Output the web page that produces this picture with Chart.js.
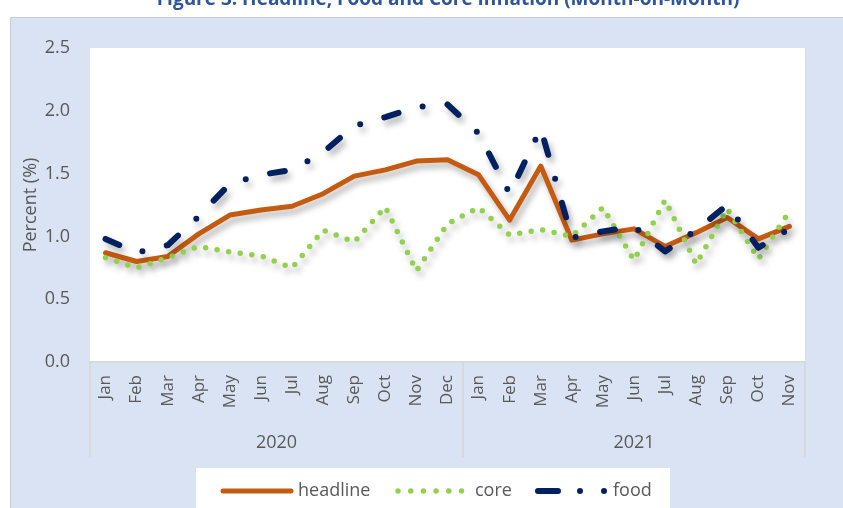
<!DOCTYPE html>
<html>
<head>
<meta charset="utf-8">
<script src="https://cdn.jsdelivr.net/npm/chart.js@4/dist/chart.umd.min.js"></script>
<style>
html,body{margin:0;padding:0;background:#fff;}
#wrap{width:843px;height:508px;}
</style>
</head>
<body>
<div id="wrap"><canvas id="c" width="843" height="508"></canvas></div>
<script>
const chartTitle = 'Figure 3: Headline, Food and Core Inflation (Month-on-Month)';
const months = ['Jan','Feb','Mar','Apr','May','Jun','Jul','Aug','Sep','Oct','Nov','Dec',
                'Jan','Feb','Mar','Apr','May','Jun','Jul','Aug','Sep','Oct','Nov'];
const years = ['2020','2021'];
const yearCounts = [12, 11];
const yTicks = [0, 0.5, 1.0, 1.5, 2.0, 2.5];
const seriesNames = ['headline','core','food'];
const headline = [0.87,0.80,0.84,1.02,1.17,1.21,1.24,1.34,1.48,1.53,1.60,1.61,
                  1.49,1.13,1.56,0.97,1.02,1.06,0.92,1.03,1.15,0.98,1.08];
const core = [0.83,0.75,0.83,0.92,0.875,0.845,0.75,1.05,0.955,1.235,0.725,1.10,
              1.23,1.01,1.055,1.00,1.23,0.81,1.29,0.78,1.22,0.82,1.20];
const food = [0.98,0.87,0.93,1.16,1.42,1.49,1.53,1.67,1.88,1.95,2.03,2.05,
              1.82,1.34,1.86,0.99,1.04,1.08,0.88,1.05,1.25,0.91,1.06];

const FONT = 'Open Sans';
const GREY = '#595959';
const COLORS = {headline:'#c55a11', core:'#92d050', food:'#002060'};

const bgPlugin = {
  id:'bg',
  beforeDraw(c){
    const ctx = c.ctx, a = c.chartArea;
    ctx.save();
    ctx.fillStyle = '#ffffff';
    ctx.fillRect(0,0,c.width,c.height);
    ctx.fillStyle = '#dae3f3';
    ctx.fillRect(10,17,c.width-10,c.height-17);
    ctx.strokeStyle = '#c8ccd4';
    ctx.lineWidth = 1;
    ctx.beginPath();
    ctx.moveTo(10.5,c.height); ctx.lineTo(10.5,17.5); ctx.lineTo(c.width,17.5);
    ctx.stroke();
    ctx.fillStyle = '#ffffff';
    ctx.fillRect(a.left,a.top,a.right-a.left,a.bottom-a.top);
    ctx.fillStyle = '#2f5597';
    ctx.font = 'bold 19px "' + FONT + '"';
    ctx.textAlign = 'center';
    ctx.textBaseline = 'alphabetic';
    ctx.fillText(chartTitle, 448, 5);
    ctx.restore();
  }
};

const shadowPlugin = {
  id:'shadow',
  beforeDatasetsDraw(c){
    const ctx = c.ctx;
    ctx.save();
    ctx.shadowColor = 'rgba(0,0,0,0.3)';
    ctx.shadowBlur = 6;
    ctx.shadowOffsetX = 3;
    ctx.shadowOffsetY = 5;
  },
  afterDatasetsDraw(c){ c.ctx.restore(); }
};

const axisPlugin = {
  id:'yearAxis',
  afterDraw(c){
    const ctx = c.ctx, xs = c.scales.x, a = c.chartArea;
    const w = xs.width / months.length;
    ctx.save();
    ctx.strokeStyle = '#d9d9d9';
    ctx.lineWidth = 2;
    ctx.fillStyle = GREY;
    ctx.font = '18px "' + FONT + '"';
    ctx.textAlign = 'center';
    ctx.textBaseline = 'middle';
    let start = 0;
    const bounds = [];
    years.forEach((y,i)=>{
      const x0 = xs.getPixelForValue(start) - w/2;
      const x1 = xs.getPixelForValue(start + yearCounts[i] - 1) + w/2;
      bounds.push(x0); if (i === years.length-1) bounds.push(x1);
      ctx.fillText(y, (x0+x1)/2, 443);
      start += yearCounts[i];
    });
    bounds.forEach(x=>{
      ctx.beginPath(); ctx.moveTo(x, a.bottom); ctx.lineTo(x, 457); ctx.stroke();
    });
    ctx.fillStyle = '#ffffff';
    ctx.fillRect(196, 468, 474, 40);
    const ly = 491;
    ctx.lineCap = 'round';
    ctx.strokeStyle = COLORS.headline; ctx.lineWidth = 5; ctx.setLineDash([]);
    ctx.beginPath(); ctx.moveTo(223, ly); ctx.lineTo(291, ly); ctx.stroke();
    ctx.strokeStyle = COLORS.core; ctx.lineWidth = 5.5; ctx.setLineDash([0, 12.7]);
    ctx.beginPath(); ctx.moveTo(398, ly); ctx.lineTo(464, ly); ctx.stroke();
    ctx.strokeStyle = COLORS.food; ctx.lineWidth = 6; ctx.setLineDash([20, 22, 0, 24, 0, 100]);
    ctx.beginPath(); ctx.moveTo(538, ly); ctx.lineTo(610, ly); ctx.stroke();
    ctx.setLineDash([]);
    ctx.fillStyle = GREY;
    ctx.textAlign = 'left';
    ctx.font = '18px "' + FONT + '"';
    ctx.fillText(seriesNames[0], 298, ly);
    ctx.fillText(seriesNames[1], 475, ly);
    ctx.fillText(seriesNames[2], 613, ly);
    ctx.restore();
  }
};

new Chart(document.getElementById('c'), {
  type:'line',
  data:{
    labels: months,
    datasets:[
      {label:seriesNames[0], data:headline, borderColor:COLORS.headline, borderWidth:5,
       pointRadius:0, tension:0, borderJoinStyle:'round', borderCapStyle:'round', fill:false, order:3},
      {label:seriesNames[1], data:core, borderColor:COLORS.core, borderWidth:5.5,
       borderDash:[0,11.7], pointRadius:0, tension:0, borderJoinStyle:'round', borderCapStyle:'round', fill:false, order:2},
      {label:seriesNames[2], data:food, borderColor:COLORS.food, borderWidth:6,
       borderDash:[15,25,0,25], pointRadius:0, tension:0, borderJoinStyle:'round', borderCapStyle:'round', fill:false, order:1}
    ]
  },
  options:{
    responsive:false,
    animation:false,
    devicePixelRatio:1,
    layout:{padding:{left:10, top:48, right:38, bottom:0}},
    plugins:{legend:{display:false}, tooltip:{enabled:false}, title:{display:false}},
    scales:{
      x:{
        offset:true,
        grid:{display:false, drawTicks:false, offset:true},
        border:{display:true, color:'#d9d9d9', width:2},
        ticks:{color:GREY, font:{family:FONT, size:17}, maxRotation:90, minRotation:90, padding:13, autoSkip:false},
        afterFit(s){ s.height = 146; }
      },
      y:{
        min:yTicks[0], max:yTicks[yTicks.length-1],
        grid:{display:false, drawTicks:false},
        border:{display:false},
        ticks:{stepSize:0.5, color:GREY, font:{family:FONT, size:18}, padding:20,
               callback:v=>Number(v).toFixed(1)},
        title:{display:true, text:'Percent (%)', color:GREY, font:{family:FONT, size:18}, padding:{top:10, bottom:0}},
        afterFit(s){ s.width = 80; }
      }
    }
  },
  plugins:[bgPlugin, shadowPlugin, axisPlugin]
});
</script>
</body>
</html>
